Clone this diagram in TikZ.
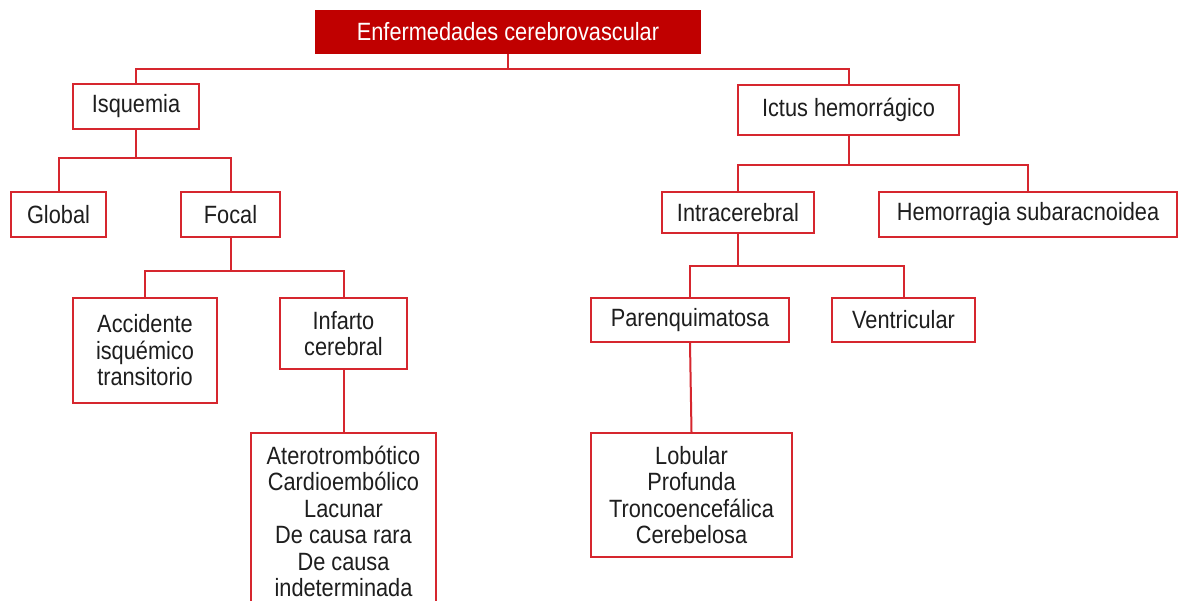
\documentclass[tikz,border=0pt]{standalone}
\usepackage{fontspec}
\usepackage{tikz}
\usetikzlibrary{positioning,calc}
\newfontfamily\diagfont[FakeStretch=0.87]{Liberation Sans}
\definecolor{boxred}{RGB}{214,38,46}
\definecolor{titlered}{RGB}{192,0,0}
\definecolor{inktext}{RGB}{30,30,30}

\begin{document}
\begin{tikzpicture}[x=1pt, y=-1pt,
    font=\diagfont\fontsize{25}{26.5}\selectfont,
    box/.style={draw=boxred, line width=2pt, fill=white, text=inktext, align=center, inner sep=0pt},
    link/.style={draw=boxred, line width=2pt}]
  \clip (0,0) rectangle (1178,600);
  \fill[white] (0,0) rectangle (1178,600);

  % Title
  \node[box, fill=titlered, draw=titlered, text=white, minimum width=384pt, minimum height=42pt] (title) at (508,32) {Enfermedades cerebrovascular};

  % Left branch
  \node[box, minimum width=126pt, minimum height=45pt] (isq) at (136,106.5) {Isquemia};
  \node[box, minimum width=95pt, minimum height=45pt] (global) at (58.5,214.5) {Global};
  \node[box, minimum width=99pt, minimum height=45pt] (focal) at (230.5,214.5) {Focal};
  \node[box, minimum width=144pt, minimum height=105pt] (ait) at (145,350.5) {Accidente\\isquémico\\transitorio};
  \node[box, minimum width=127pt, minimum height=71pt] (infarto) at (343.5,333.5) {Infarto\\cerebral};
  \node[box, minimum width=185pt, minimum height=177pt] (tipos) at (343.5,521.5) {Aterotrombótico\\Cardioembólico\\Lacunar\\De causa rara\\De causa\\indeterminada};

  % Right branch
  \node[box, minimum width=221pt, minimum height=50pt] (ictus) at (848.5,110) {Ictus hemorrágico};
  \node[box, minimum width=152pt, minimum height=41pt] (intra) at (738,212.5) {Intracerebral};
  \node[box, minimum width=298pt, minimum height=45pt] (hsa) at (1028,214.5) {Hemorragia subaracnoidea};
  \node[box, minimum width=198pt, minimum height=44pt] (parenq) at (690,320) {Parenquimatosa};
  \node[box, minimum width=143pt, minimum height=44pt] (ventr) at (903.5,320) {Ventricular};
  \node[box, minimum width=201pt, minimum height=124pt] (sitios) at (691.5,495) {Lobular\\Profunda\\Troncoencefálica\\Cerebelosa};

  % Connectors
  \draw[link] (title.south) -- ++(0,15) -| (isq.north);
  \draw[link] (title.south) -- ++(0,15) -| (ictus.north);
  \draw[link] (isq.south) -- ++(0,28) -| (global.north);
  \draw[link] (isq.south) -- ++(0,28) -| (focal.north);
  \draw[link] (focal.south) -- ++(0,33) -| (ait.north);
  \draw[link] (focal.south) -- ++(0,33) -| (infarto.north);
  \draw[link] (infarto.south) -- (tipos.north);
  \draw[link] (ictus.south) -- ++(0,29) -| (intra.north);
  \draw[link] (ictus.south) -- ++(0,29) -| (hsa.north);
  \draw[link] (intra.south) -- ++(0,32) -| (parenq.north);
  \draw[link] (intra.south) -- ++(0,32) -| (ventr.north);
  \draw[link] (parenq.south) -- (sitios.north);
\end{tikzpicture}
\end{document}
